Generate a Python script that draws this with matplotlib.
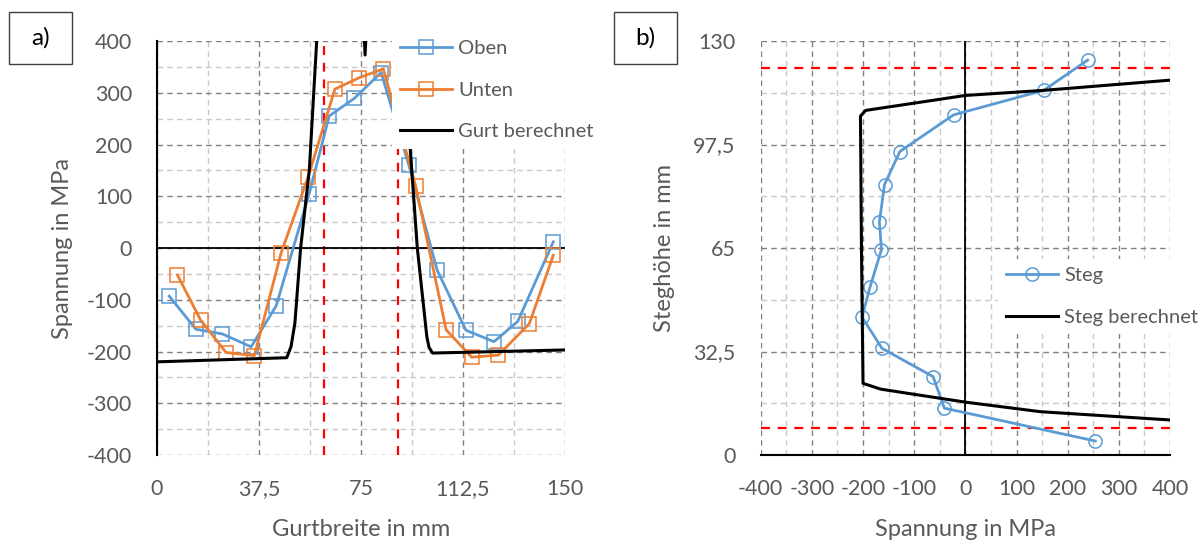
import matplotlib
matplotlib.use("Agg")
import matplotlib.pyplot as plt
from matplotlib.patches import Rectangle
from matplotlib.ticker import FixedLocator, FixedFormatter

plt.rcParams['font.family'] = ['Lato', 'DejaVu Sans']
plt.rcParams['axes.unicode_minus'] = False

# panel a) - Gurt
oben_x = [4.5, 14.3, 24.0, 34.6, 43.8, 55.9, 63.3, 72.5, 82.4, 92.6, 103.0, 113.6, 123.9, 132.6, 145.7]
oben_y = [-93, -157, -166, -191, -112, 104, 255, 289, 339, 160, -43, -159, -181, -142, 12]
unten_x = [7.5, 16.0, 25.4, 35.8, 45.6, 55.6, 65.4, 74.3, 83.2, 95.1, 106.3, 115.7, 125.5, 136.9, 145.7]
unten_y = [-52, -139, -202, -208, -10, 138, 307, 329, 346, 120, -158, -211, -207, -146, -14]
gurt_x = [0, 47.7, 49.3, 50.7, 52.8, 56.0, 58.7, 59.5, 75.8, 76.5, 77.2, 92.5, 93.0, 95.7, 99.2, 100.0, 101.3, 150]
gurt_y = [-220, -212, -190, -145, 0, 151, 399, 450, 450, 373, 450, 450, 199, 0, -171, -192, -203, -197]
gurt_grenzen = [61.5, 88.5]
gurt_ticks = [0, 37.5, 75, 112.5, 150]
gurt_labels = ['0', '37,5', '75', '112,5', '150']

# panel b) - Steg
steg_x = [239, 153, -23, -128, -158, -168, -164, -186, -202, -163, -63, -41, 254]
steg_y = [124, 114.5, 106.8, 95.3, 84.9, 73.2, 64.5, 52.9, 43.3, 33.5, 24.6, 14.7, 4.4]
stegber_x = [400, 146.6, 0, -114, -166, -200, -203, -205, -195, 0, 153, 400]
stegber_y = [11, 13.6, 16.6, 19.4, 20.7, 22.5, 64, 106.4, 108.2, 112.9, 114.5, 117.7]
steg_grenzen = [8.5, 121.5]
steg_ticks = [0, 32.5, 65, 97.5, 130]
steg_labels = ['0', '32,5', '65', '97,5', '130']

BLUE = '#5B9BD5'
ORANGE = '#ED7D31'
GREY = '#595959'
dash = (0, (4, 3))

fig = plt.figure(figsize=(12.03, 5.44), dpi=100)
ax1 = fig.add_axes([157 / 1203, 1 - 455 / 544, 408 / 1203, 414 / 544])
ax2 = fig.add_axes([760.7 / 1203, 1 - 455 / 544, 409.3 / 1203, 414 / 544])


def style(ax):
    for s in ax.spines.values():
        s.set_visible(False)
    ax.grid(which='major', color='#808080', ls=dash, lw=1)
    ax.grid(which='minor', color='#c8c8c8', ls=dash, lw=1)
    ax.tick_params(which='both', length=0, labelsize=15.5, labelcolor=GREY)
    ax.tick_params(axis='y', pad=18)
    ax.tick_params(axis='x', pad=17)
    ax.set_axisbelow(True)


def legend(ax, x, y):
    leg = ax.legend(loc='upper left', bbox_to_anchor=(x / 1203, 1 - y / 544),
                    bbox_transform=fig.transFigure, fontsize=14.5, frameon=True,
                    facecolor='white', edgecolor='none', framealpha=1, fancybox=False,
                    borderpad=0.4, borderaxespad=0, handlelength=2.6,
                    handletextpad=0.3, labelspacing=1.22)
    for t in leg.get_texts():
        t.set_color(GREY)


# a)
ax1.set_xlim(0, 150)
ax1.set_ylim(-400, 400)
ax1.xaxis.set_major_locator(FixedLocator(gurt_ticks))
ax1.xaxis.set_major_formatter(FixedFormatter(gurt_labels))
ax1.set_xticks([18.75, 56.25, 93.75, 131.25], minor=True)
ax1.set_yticks(range(-400, 401, 100))
ax1.set_yticks(range(-350, 400, 100), minor=True)
style(ax1)
for g in gurt_grenzen:
    ax1.axvline(g, color='red', lw=1.6, ls=(0, (4, 3.5)))
ax1.axhline(0, color='black', lw=1.3)
ax1.axvline(0, color='black', lw=1.5, clip_on=False)
ax1.plot(oben_x, oben_y, color=BLUE, lw=2, marker='s', ms=10, mfc='none',
         mec=BLUE, mew=1.1, label='Oben')
ax1.plot(unten_x, unten_y, color=ORANGE, lw=2, marker='s', ms=10, mfc='none',
         mec=ORANGE, mew=1.1, label='Unten')
ax1.plot(gurt_x, gurt_y, color='black', lw=2.2, label='Gurt berechnet')
ax1.set_xlabel('Gurtbreite in mm', fontsize=17, color=GREY)
ax1.set_ylabel('Spannung in MPa', fontsize=17, color=GREY)
ax1.xaxis.set_label_coords(0.5, -0.155)
ax1.yaxis.set_label_coords(-0.205, 0.5)
legend(ax1, 392, 32)

# b)
ax2.set_xlim(-400, 400)
ax2.set_ylim(0, 130)
ax2.set_xticks(range(-400, 401, 100))
ax2.set_xticks(range(-350, 400, 100), minor=True)
ax2.yaxis.set_major_locator(FixedLocator(steg_ticks))
ax2.yaxis.set_major_formatter(FixedFormatter(steg_labels))
ax2.set_yticks([16.25, 48.75, 81.25, 113.75], minor=True)
style(ax2)
for g in steg_grenzen:
    ax2.axhline(g, color='red', lw=1.6, ls=(0, (4, 3.5)))
ax2.axvline(0, color='black', lw=1.3)
ax2.axhline(0, color='black', lw=1.5, clip_on=False)
ax2.plot(steg_x, steg_y, color=BLUE, lw=2, marker='o', ms=9.5, mfc='none',
         mec=BLUE, mew=1.1, label='Steg')
ax2.plot(stegber_x, stegber_y, color='black', lw=2.2, label='Steg berechnet')
ax2.set_xlabel('Spannung in MPa', fontsize=17, color=GREY)
ax2.set_ylabel('Steghöhe in mm', fontsize=17, color=GREY)
ax2.xaxis.set_label_coords(0.5, -0.155)
ax2.yaxis.set_label_coords(-0.21, 0.5)
legend(ax2, 998, 259)

# panel tags
for x0, tag in [(9, 'a)'), (614, 'b)')]:
    fig.patches.append(Rectangle((x0 / 1203, 1 - 64 / 544), 63 / 1203, 52 / 544,
                                 transform=fig.transFigure, fill=False,
                                 edgecolor='#404040', lw=1))
    fig.text((x0 + 31.5) / 1203, 1 - 38 / 544, tag, ha='center', va='center',
             fontsize=17.5, color='black')

fig.savefig('out.png', dpi=100)
